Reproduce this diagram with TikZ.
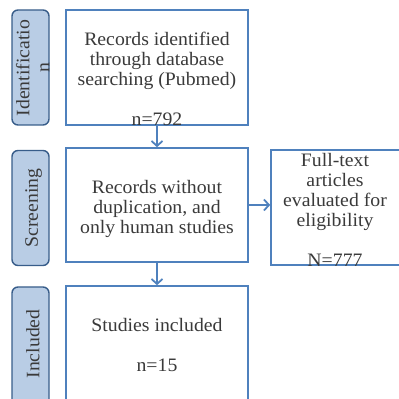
\documentclass[tikz,border=0pt]{standalone}
\usepackage{fontspec}
\setmainfont[FakeStretch=1.04]{Liberation Serif}
\usetikzlibrary{arrows.meta}
\definecolor{boxblue}{HTML}{4F81BD}
\definecolor{sidefill}{HTML}{B9CDE5}
\definecolor{sideedge}{HTML}{385D8A}
\definecolor{txt}{HTML}{3A3A3A}
\tikzset{
  mainbox/.style={draw=boxblue, line width=1.6pt, fill=white, inner sep=0pt},
  sidebox/.style={draw=sideedge, fill=sidefill, line width=1.4pt, rounded corners=6pt, inner sep=0pt},
  txtnode/.style={text=txt, align=center, inner sep=0pt, font=\fontsize{19}{20}\selectfont},
  conn/.style={draw=boxblue, line width=1.8pt, -{Straight Barb[length=5pt,width=11pt,line width=1.8pt]}}
}
\begin{document}
\begin{tikzpicture}[x=1pt,y=1pt]
\useasboundingbox (0,0) rectangle (399,399);
% side boxes
\node[sidebox, minimum width=37pt, minimum height=115pt] (sid) at (30.5,399-67.5) {};
\node[sidebox, minimum width=37pt, minimum height=115pt] (sscr) at (30.5,399-208) {};
\node[sidebox, minimum width=37pt, minimum height=130pt] (sinc) at (30.5,399-352) {};
\node[txtnode, rotate=90, anchor=north] (tid) at (15.8,399-68) {Identificatio\\n};
\node[txtnode, rotate=90, anchor=north] (tscr) at (25,399-208) {Screening};
\node[txtnode, rotate=90, anchor=north] (tinc) at (26,399-344) {Included};
% main boxes
\node[mainbox, minimum width=182pt, minimum height=115pt] (b1) at (157,399-67.5) {};
\node[mainbox, minimum width=182pt, minimum height=114pt] (b2) at (157,399-205) {};
\node[mainbox, minimum width=182pt, minimum height=130pt] (b3) at (157,399-351) {};
\node[mainbox, minimum width=140pt, minimum height=115pt] (b4) at (341,399-207.5) {};
% texts
\node[txtnode, anchor=north] (t1) at (157,399-31.8) {Records identified\\through database\\searching (Pubmed)\\\strut\\n=792};
\node[txtnode, anchor=north] (t2) at (157,399-179.8) {Records without\\duplication, and\\only human studies};
\node[txtnode, anchor=north] (t3) at (335,399-152.8) {Full-text\\articles\\evaluated for\\eligibility\\\strut\\N=777};
\node[txtnode, anchor=north] (t4) at (157,399-317.8) {Studies included\\\strut\\n=15};
% connectors
\draw[conn] (b1.south) -- (b2.north);
\draw[conn] (b2.south) -- (b3.north);
\draw[conn] (b2.east) -- (b2.east -| b4.west);
\end{tikzpicture}
\end{document}
